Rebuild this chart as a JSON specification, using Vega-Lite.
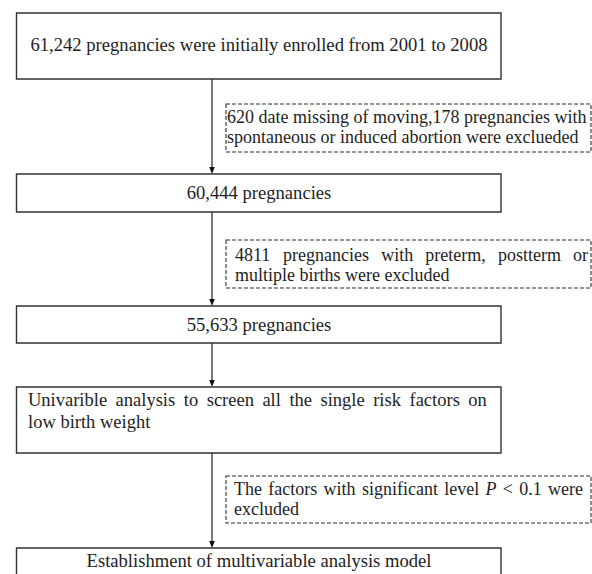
{
  "$schema": "https://vega.github.io/schema/vega-lite/v6.json",
  "width": 592,
  "height": 574,
  "padding": 0,
  "autosize": {"type": "none"},
  "background": "white",
  "config": {"view": {"stroke": null}},
  "layer": [
    {
      "data": {"values": [
        {"box": "b1", "x": 16.5, "x2": 501, "y": 13, "y2": 79},
        {"box": "b2", "x": 16.5, "x2": 501, "y": 174, "y2": 212},
        {"box": "b3", "x": 16.5, "x2": 501, "y": 306, "y2": 343},
        {"box": "b4", "x": 16.5, "x2": 501, "y": 387, "y2": 453},
        {"box": "b5", "x": 16.5, "x2": 501, "y": 548, "y2": 600}
      ]},
      "mark": {"type": "rect", "fill": "white", "stroke": "#333333", "strokeWidth": 1.4, "clip": true},
      "encoding": {
        "x": {"field": "x", "type": "quantitative", "scale": {"domain": [0, 592]}, "axis": null},
        "x2": {"field": "x2"},
        "y": {"field": "y", "type": "quantitative", "scale": {"domain": [0, 574], "reverse": true}, "axis": null},
        "y2": {"field": "y2"}
      }
    },
    {
      "data": {"values": [
        {"box": "d1", "x": 226, "x2": 591, "y": 104, "y2": 152},
        {"box": "d2", "x": 226, "x2": 591, "y": 240, "y2": 288},
        {"box": "d3", "x": 226, "x2": 591, "y": 476, "y2": 523}
      ]},
      "mark": {"type": "rect", "fill": "white", "stroke": "#2e2e2e", "strokeWidth": 1.1, "strokeDash": [4, 2]},
      "encoding": {
        "x": {"field": "x", "type": "quantitative", "scale": {"domain": [0, 592]}, "axis": null},
        "x2": {"field": "x2"},
        "y": {"field": "y", "type": "quantitative", "scale": {"domain": [0, 574], "reverse": true}, "axis": null},
        "y2": {"field": "y2"}
      }
    },
    {
      "data": {"values": [
        {"x": 212, "y": 79, "y2": 170},
        {"x": 212, "y": 212, "y2": 302},
        {"x": 212, "y": 343, "y2": 383},
        {"x": 212, "y": 453, "y2": 544}
      ]},
      "mark": {"type": "rule", "color": "#222222", "strokeWidth": 1.2},
      "encoding": {
        "x": {"field": "x", "type": "quantitative", "scale": {"domain": [0, 592]}, "axis": null},
        "y": {"field": "y", "type": "quantitative", "scale": {"domain": [0, 574], "reverse": true}, "axis": null},
        "y2": {"field": "y2"}
      }
    },
    {
      "data": {"values": [
        {"x": 212, "y": 170.5},
        {"x": 212, "y": 302.5},
        {"x": 212, "y": 383.5},
        {"x": 212, "y": 544.5}
      ]},
      "mark": {"type": "point", "shape": "M-0.8,-1L0.8,-1L0,1Z", "filled": true, "color": "#111111", "size": 49, "opacity": 1},
      "encoding": {
        "x": {"field": "x", "type": "quantitative", "scale": {"domain": [0, 592]}, "axis": null},
        "y": {"field": "y", "type": "quantitative", "scale": {"domain": [0, 574], "reverse": true}, "axis": null}
      }
    },
    {
      "data": {"values": [
        {"label": "61,242 pregnancies were initially enrolled from 2001 to 2008", "x": 259, "y": 45},
        {"label": "60,444 pregnancies", "x": 259, "y": 193},
        {"label": "55,633 pregnancies", "x": 259, "y": 325},
        {"label": "Establishment of multivariable analysis model", "x": 259, "y": 561}
      ]},
      "mark": {"type": "text", "font": "Liberation Serif", "fontSize": 18.6, "color": "#1e1e1e", "align": "center", "baseline": "middle"},
      "encoding": {
        "x": {"field": "x", "type": "quantitative", "scale": {"domain": [0, 592]}, "axis": null},
        "y": {"field": "y", "type": "quantitative", "scale": {"domain": [0, 574], "reverse": true}, "axis": null},
        "text": {"field": "label"}
      }
    },
    {
      "data": {"values": [
        {"label": "Univarible", "x": 28, "y": 400},
        {"label": "analysis", "x": 115.6, "y": 400},
        {"label": "to", "x": 183.8, "y": 400},
        {"label": "screen", "x": 206.7, "y": 400},
        {"label": "all", "x": 262.4, "y": 400},
        {"label": "the", "x": 289.4, "y": 400},
        {"label": "single", "x": 320.5, "y": 400},
        {"label": "risk", "x": 373.2, "y": 400},
        {"label": "factors", "x": 409.5, "y": 400},
        {"label": "on", "x": 468.3, "y": 400},
        {"label": "low birth weight", "x": 28, "y": 422}
      ]},
      "mark": {"type": "text", "font": "Liberation Serif", "fontSize": 18.5, "color": "#1e1e1e", "align": "left", "baseline": "middle"},
      "encoding": {
        "x": {"field": "x", "type": "quantitative", "scale": {"domain": [0, 592]}, "axis": null},
        "y": {"field": "y", "type": "quantitative", "scale": {"domain": [0, 574], "reverse": true}, "axis": null},
        "text": {"field": "label"}
      }
    },
    {
      "data": {"values": [
        {"label": "620 date missing of moving,178 pregnancies with", "x": 227, "y": 118},
        {"label": "spontaneous or induced abortion were exclueded", "x": 227, "y": 138},
        {"label": "4811", "x": 235, "y": 256},
        {"label": "pregnancies", "x": 283.1, "y": 256},
        {"label": "with", "x": 381.2, "y": 256},
        {"label": "preterm,", "x": 425.3, "y": 256},
        {"label": "postterm", "x": 497.9, "y": 256},
        {"label": "or", "x": 573, "y": 256},
        {"label": "multiple births were excluded", "x": 235, "y": 276},
        {"label": "The", "x": 234, "y": 490},
        {"label": "factors", "x": 268.3, "y": 490},
        {"label": "with", "x": 323.6, "y": 490},
        {"label": "significant", "x": 361.9, "y": 490},
        {"label": "level", "x": 444.2, "y": 490},
        {"label": "<", "x": 502.8, "y": 490},
        {"label": "0.1", "x": 519.3, "y": 490},
        {"label": "were", "x": 548.1, "y": 490},
        {"label": "excluded", "x": 234, "y": 510}
      ]},
      "mark": {"type": "text", "font": "Liberation Serif", "fontSize": 18, "color": "#1e1e1e", "align": "left", "baseline": "middle"},
      "encoding": {
        "x": {"field": "x", "type": "quantitative", "scale": {"domain": [0, 592]}, "axis": null},
        "y": {"field": "y", "type": "quantitative", "scale": {"domain": [0, 574], "reverse": true}, "axis": null},
        "text": {"field": "label"}
      }
    },
    {
      "data": {"values": [
        {"label": "P", "x": 485.5, "y": 490}
      ]},
      "mark": {"type": "text", "font": "Liberation Serif", "fontSize": 18, "fontStyle": "italic", "color": "#1e1e1e", "align": "left", "baseline": "middle"},
      "encoding": {
        "x": {"field": "x", "type": "quantitative", "scale": {"domain": [0, 592]}, "axis": null},
        "y": {"field": "y", "type": "quantitative", "scale": {"domain": [0, 574], "reverse": true}, "axis": null},
        "text": {"field": "label"}
      }
    }
  ]
}
